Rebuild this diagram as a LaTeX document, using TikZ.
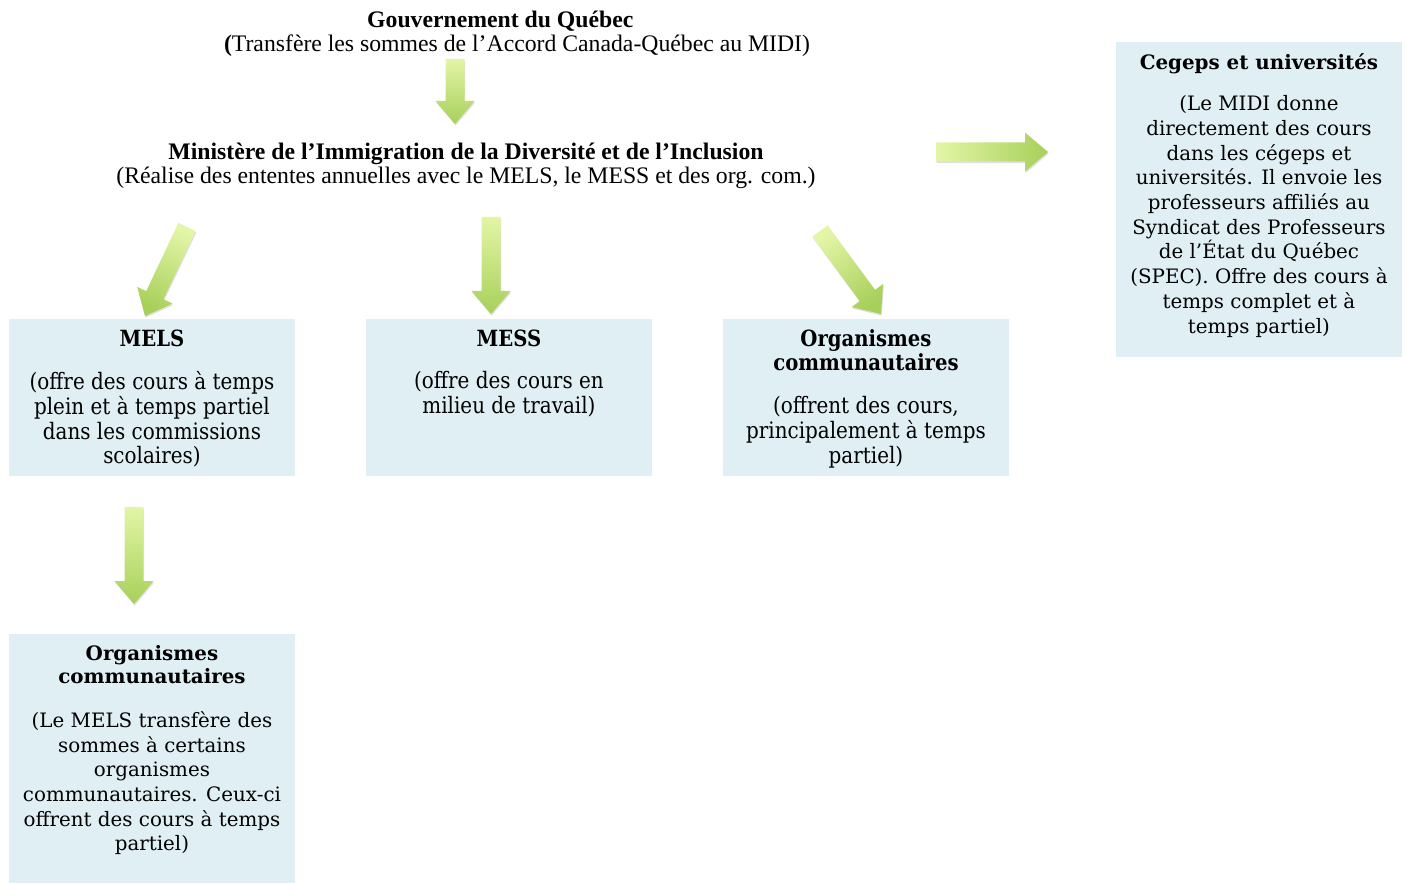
\documentclass[tikz,border=0pt]{standalone}
\usepackage{fontspec}
\setmainfont{Liberation Serif}
\newfontfamily\boxfont{DejaVu Serif}
\newfontfamily\boxfontn{DejaVu Serif}[FakeStretch=0.88]
\usetikzlibrary{calc,shadows}
\definecolor{gleaf}{HTML}{E3F5A6}
\definecolor{gmoss}{HTML}{A7D05A}
\definecolor{pale}{HTML}{E0EFF4}
\tikzset{
  every node/.style={inner sep=0pt,outer sep=0pt},
  head/.style={font=\fontsize{13.5}{13.6}\selectfont,align=center,anchor=north,
    execute at begin node=\strut},
  box/.style={fill=pale,anchor=north west,minimum width=5.72cm},
  ttl/.style={font=\boxfont\bfseries\fontsize{11.3}{13.6}\selectfont,align=center,
    anchor=north,execute at begin node=\strut},
  txt/.style={font=\boxfont\fontsize{11.3}{14.06}\selectfont,align=center,
    anchor=north,execute at begin node=\strut},
  ttln/.style={font=\boxfontn\bfseries\fontsize{12.7}{13.6}\selectfont,align=center,
    anchor=north,execute at begin node=\strut},
  txtn/.style={font=\boxfontn\fontsize{12.9}{14.06}\selectfont,align=center,
    anchor=north,execute at begin node=\strut},
  garrow/.style={top color=gleaf,bottom color=gmoss,
    drop shadow={opacity=0.25,shadow xshift=0.4pt,shadow yshift=-0.9pt}},
}
% block arrow from #2 to #3
\newcommand{\garrow}[3][]{%
  \coordinate (h) at ($(#3)!0.46cm!(#2)$);
  \path[garrow,#1] ($(#2)!0.19cm!90:(#3)$) -- ($(h)!0.19cm!90:(#3)$)
    -- ($(h)!0.39cm!90:(#3)$) -- (#3) -- ($(h)!0.39cm!-90:(#3)$)
    -- ($(h)!0.19cm!-90:(#3)$) -- ($(#2)!0.19cm!-90:(#3)$) -- cycle;
}

\begin{document}
\begin{tikzpicture}[x=0.02cm,y=-0.02cm]
  \useasboundingbox (0,0) rectangle (1407,884);

  % headers
  \node[head] (gouv) at (517,11.2)
    {\textbf{Gouvernement du Québec}\hspace*{19pt}\\
     \textbf{(}Transfère les sommes de l’Accord Canada-Québec au MIDI)};
  \node[head] (midi) at (466,143.2)
    {\textbf{Ministère de l’Immigration de la Diversité et de l’Inclusion}\\
     (Réalise des ententes annuelles avec le MELS, le MESS et des org. com.)};

  % boxes
  \node[box,minimum height=3.14cm] (mels) at (9,319) {};
  \node[box,minimum height=3.14cm] (mess) at (366,319) {};
  \node[box,minimum height=3.14cm] (orgc) at (723,319) {};
  \node[box,minimum height=6.30cm] (cege) at (1116,42) {};
  \node[box,minimum height=4.98cm] (orgb) at (9,634) {};

  \node[ttln] (melsT) at ($(mels.north)+(0,11)$) {MELS};
  \node[txtn] (melsB) at ($(mels.north)+(0,52.6)$)
    {(offre des cours à temps\\plein et à temps partiel\\dans les commissions\\scolaires)};
  \node[ttln] (messT) at ($(mess.north)+(0,11)$) {MESS};
  \node[txtn] (messB) at ($(mess.north)+(0,52.6)$)
    {(offre des cours en\\milieu de travail)};
  \node[ttln] (orgcT) at ($(orgc.north)+(0,11)$) {Organismes\\communautaires};
  \node[txtn] (orgcB) at ($(orgc.north)+(0,77.6)$)
    {(offrent des cours,\\principalement à temps\\partiel)};
  \node[ttl] (cegeT) at ($(cege.north)+(0,11)$) {Cegeps et universités};
  \node[txt] (cegeB) at ($(cege.north)+(0,53.6)$)
    {(Le MIDI donne\\directement des cours\\dans les cégeps et\\universités. Il envoie les\\professeurs affiliés au\\Syndicat des Professeurs\\de l’État du Québec\\(SPEC). Offre des cours à\\temps complet et à\\temps partiel)};
  \node[ttl] (orgbT) at ($(orgb.north)+(0,11)$) {Organismes\\communautaires};
  \node[txt] (orgbB) at ($(orgb.north)+(0,77.6)$)
    {(Le MELS transfère des\\sommes à certains\\organismes\\communautaires. Ceux-ci\\offrent des cours à temps\\partiel)};

  % arrows
  \coordinate (g0) at (455,59);  \coordinate (g1) at (455,124);
  \coordinate (m0) at (187,227); \coordinate (m1) at (145,316);
  \coordinate (s0) at (491,217); \coordinate (s1) at (491,314);
  \coordinate (o0) at (820,231); \coordinate (o1) at (881,314);
  \coordinate (c0) at (936,152); \coordinate (c1) at (1048,152);
  \coordinate (b0) at (134,507); \coordinate (b1) at (134,604);
  \garrow{g0}{g1}
  \garrow[shading angle=-25]{m0}{m1}
  \garrow{s0}{s1}
  \garrow[shading angle=36]{o0}{o1}
  \garrow[left color=gleaf,right color=gmoss]{c0}{c1}
  \garrow{b0}{b1}
\end{tikzpicture}
\end{document}
